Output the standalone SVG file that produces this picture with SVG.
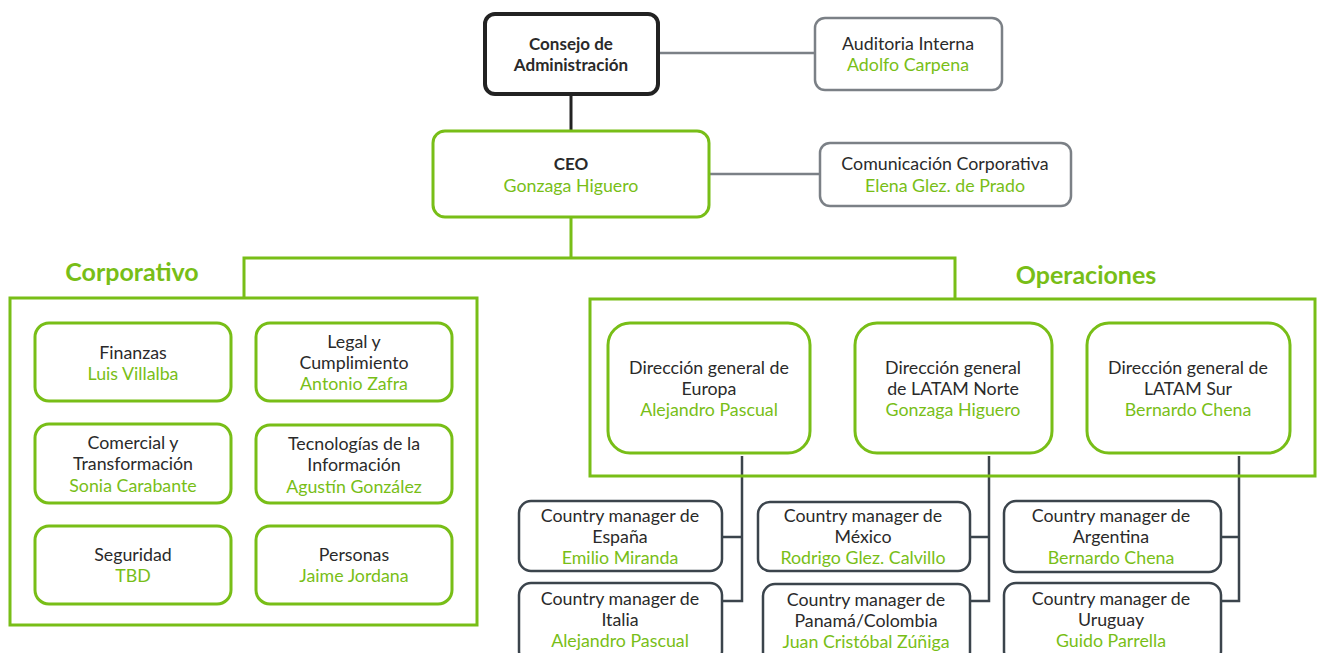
<svg xmlns="http://www.w3.org/2000/svg" width="1317" height="653" viewBox="0 0 1317 653">
<style>
text{font-family:"Lato","Noto Sans",sans-serif;font-size:17.8px;fill:#2a2a2a;text-anchor:middle}
.g{fill:#78be17}
.b{font-weight:bold;font-size:17px}
.h{font-weight:bold;font-size:25px;fill:#78be17}
.gb{fill:#fff;stroke:#78be17;stroke-width:3}
.gr{fill:#fff;stroke:#7b8086;stroke-width:2.5}
.dk{fill:#fff;stroke:#3b444c;stroke-width:2.5}
.frame{fill:none;stroke:#78be17;stroke-width:3}
</style>
<rect width="1317" height="653" fill="#fff"/>
<g id="connectors" fill="none">
<path d="M571 94V131" stroke="#222" stroke-width="3"/>
<path d="M658 53H815" stroke="#7b8086" stroke-width="2.5"/>
<path d="M709 174H820" stroke="#7b8086" stroke-width="2.5"/>
<path d="M571 217V258H244V298M571 258H955V299" stroke="#78be17" stroke-width="3"/>
<path d="M742 456V601H722M742 537H722" stroke="#3b444c" stroke-width="2.5"/>
<path d="M989 456V601H970M989 537H970" stroke="#3b444c" stroke-width="2.5"/>
<path d="M1239 456V601H1221M1239 537H1221" stroke="#3b444c" stroke-width="2.5"/>
</g>
<g id="consejo"><rect x="485" y="14" width="173" height="80" rx="10" fill="#fff" stroke="#222" stroke-width="4"/><text x="571" y="50" class="b">Consejo de</text><text x="571" y="71" class="b">Administración</text></g>
<g id="auditoria"><rect x="815" y="18" width="187" height="72" rx="10" class="gr"/><text x="908" y="50">Auditoria Interna</text><text x="908" y="71" class="g">Adolfo Carpena</text></g>
<g id="ceo"><rect x="433" y="131" width="276" height="86" rx="12" class="gb"/><text x="571" y="170" class="b">CEO</text><text x="571" y="192" class="g">Gonzaga Higuero</text></g>
<g id="comunicacion"><rect x="820" y="143" width="251" height="63" rx="10" class="gr"/><text x="945" y="170">Comunicación Corporativa</text><text x="945" y="192" class="g">Elena Glez. de Prado</text></g>
<g id="corporativo"><rect x="10" y="298" width="467" height="327" class="frame"/><text x="132" y="281" class="h">Corporativo</text></g>
<g id="operaciones"><rect x="590" y="299" width="725" height="177" class="frame"/><text x="1086" y="284" class="h">Operaciones</text></g>
<g id="finanzas"><rect x="35" y="323" width="196" height="78" rx="14" class="gb"/><text x="133" y="359">Finanzas</text><text x="133" y="380" class="g">Luis Villalba</text></g>
<g id="legal"><rect x="256" y="323" width="196" height="78" rx="14" class="gb"/><text x="354" y="348">Legal y</text><text x="354" y="369">Cumplimiento</text><text x="354" y="390" class="g">Antonio Zafra</text></g>
<g id="comercial"><rect x="35" y="424" width="196" height="79" rx="14" class="gb"/><text x="133" y="449">Comercial y</text><text x="133" y="470">Transformación</text><text x="133" y="492" class="g">Sonia Carabante</text></g>
<g id="tecnologias"><rect x="256" y="425" width="196" height="78" rx="14" class="gb"/><text x="354" y="450">Tecnologías de la</text><text x="354" y="471">Información</text><text x="354" y="493" class="g">Agustín González</text></g>
<g id="seguridad"><rect x="35" y="526" width="196" height="78" rx="14" class="gb"/><text x="133" y="561">Seguridad</text><text x="133" y="582" class="g">TBD</text></g>
<g id="personas"><rect x="256" y="526" width="196" height="78" rx="14" class="gb"/><text x="354" y="561">Personas</text><text x="354" y="582" class="g">Jaime Jordana</text></g>
<g id="europa"><rect x="608" y="323" width="202" height="130" rx="22" class="gb"/><text x="709" y="374">Dirección general de</text><text x="709" y="395">Europa</text><text x="709" y="416" class="g">Alejandro Pascual</text></g>
<g id="latam-norte"><rect x="855" y="323" width="197" height="130" rx="22" class="gb"/><text x="953" y="374">Dirección general</text><text x="953" y="395">de LATAM Norte</text><text x="953" y="416" class="g">Gonzaga Higuero</text></g>
<g id="latam-sur"><rect x="1087" y="323" width="203" height="130" rx="22" class="gb"/><text x="1188" y="374">Dirección general de</text><text x="1188" y="395">LATAM Sur</text><text x="1188" y="416" class="g">Bernardo Chena</text></g>
<g id="espana"><rect x="519" y="501" width="203" height="70" rx="12" class="dk"/><text x="620" y="522">Country manager de</text><text x="620" y="543">España</text><text x="620" y="564" class="g">Emilio Miranda</text></g>
<g id="italia"><rect x="519" y="583" width="203" height="80" rx="12" class="dk"/><text x="620" y="605">Country manager  de</text><text x="620" y="626">Italia</text><text x="620" y="647" class="g">Alejandro Pascual</text></g>
<g id="mexico"><rect x="758" y="502" width="212" height="69" rx="12" class="dk"/><text x="863" y="522">Country manager de</text><text x="863" y="543">México</text><text x="863" y="564" class="g">Rodrigo Glez. Calvillo</text></g>
<g id="panama"><rect x="763" y="584" width="207" height="80" rx="12" class="dk"/><text x="866" y="606">Country manager de</text><text x="866" y="627">Panamá/Colombia</text><text x="866" y="648" class="g">Juan Cristóbal Zúñiga</text></g>
<g id="argentina"><rect x="1004" y="501" width="217" height="71" rx="12" class="dk"/><text x="1111" y="522">Country manager  de</text><text x="1111" y="543">Argentina</text><text x="1111" y="564" class="g">Bernardo Chena</text></g>
<g id="uruguay"><rect x="1004" y="583" width="217" height="80" rx="12" class="dk"/><text x="1111" y="605">Country manager  de</text><text x="1111" y="626">Uruguay</text><text x="1111" y="647" class="g">Guido Parrella</text></g>
</svg>
